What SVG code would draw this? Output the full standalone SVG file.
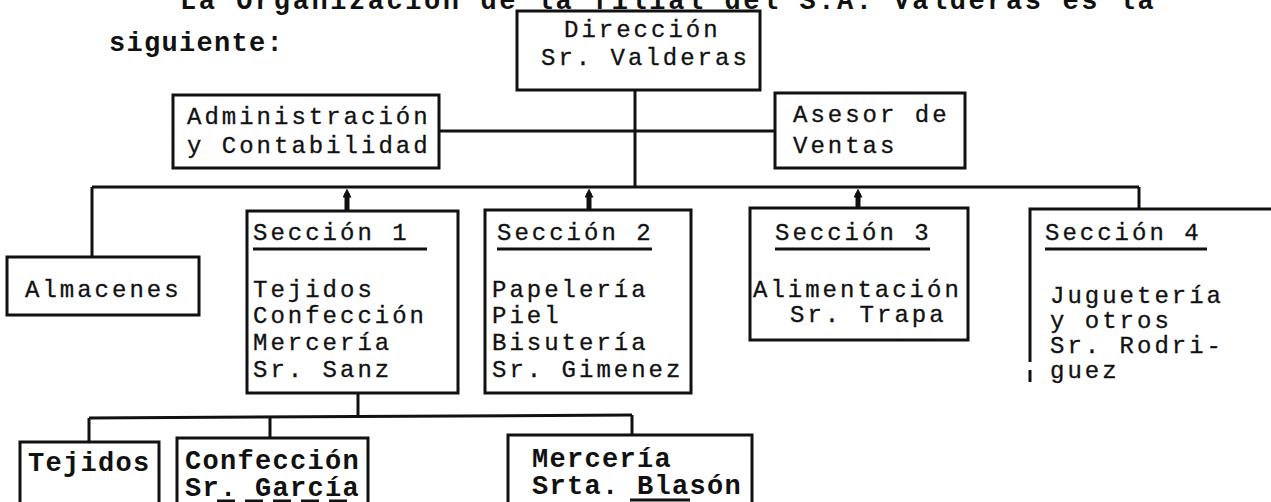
<svg xmlns="http://www.w3.org/2000/svg" width="1271" height="502" viewBox="0 0 1271 502">
  <style>
    .box { fill: none; stroke: #111; stroke-width: 3; }
    .ln { fill: none; stroke: #111; stroke-width: 3; }
    .tk { fill: none; stroke: #111; stroke-width: 5; }
    .t { font-family: "Liberation Mono", "DejaVu Sans Mono", monospace; font-size: 24px; letter-spacing: 3.0px; fill: #111; stroke: #111; stroke-width: 0.3; }
    .b { font-family: "Liberation Mono", "DejaVu Sans Mono", monospace; font-weight: bold; font-size: 27px; letter-spacing: 1.3px; fill: #111; }
  </style>
  <defs>
    <marker id="tip" viewBox="0 0 10 10" refX="5" refY="5" markerWidth="9" markerHeight="9" markerUnits="userSpaceOnUse" orient="auto">
      <path d="M0,0 L10,5 L0,10 z" fill="#111"/>
    </marker>
  </defs>
  <rect width="1271" height="502" fill="#fff"/>

  <!-- running text of the page -->
  <text class="b" x="180" y="9" textLength="975" lengthAdjust="spacing">La Organización de la filial del S.A. Valderas es la</text>
  <text class="b" x="109" y="51">siguiente:</text>

  <!-- connectors -->
  <g id="connectors">
    <line class="ln" x1="635" y1="90" x2="635" y2="187"/>
    <line class="ln" x1="439" y1="131" x2="775" y2="131"/>
    <line class="ln" x1="92" y1="187" x2="1139" y2="187"/>
    <line class="ln" x1="92" y1="187" x2="92" y2="257"/>
    <line class="tk" x1="347" y1="211" x2="347" y2="193" marker-end="url(#tip)"/>
    <line class="tk" x1="589" y1="210" x2="589" y2="193" marker-end="url(#tip)"/>
    <line class="tk" x1="858" y1="208" x2="858" y2="193" marker-end="url(#tip)"/>
    <line class="ln" x1="1139" y1="187" x2="1139" y2="209"/>
    <line class="ln" x1="358" y1="393" x2="358" y2="416"/>
    <line class="ln" x1="89" y1="418" x2="632" y2="415"/>
    <line class="ln" x1="89" y1="418" x2="89" y2="442"/>
    <line class="ln" x1="270" y1="417" x2="270" y2="438"/>
    <line class="ln" x1="632" y1="415" x2="632" y2="435"/>
  </g>

  <g id="direccion">
    <rect class="box" x="517" y="11" width="243" height="79"/>
    <text class="t" x="564" y="37">Dirección</text>
    <text class="t" x="541" y="65">Sr. Valderas</text>
  </g>

  <g id="administracion">
    <rect class="box" x="173" y="95" width="266" height="73"/>
    <text class="t" x="187" y="124">Administración</text>
    <text class="t" x="187" y="153">y Contabilidad</text>
  </g>

  <g id="asesor">
    <rect class="box" x="775" y="93" width="190" height="75"/>
    <text class="t" x="793" y="122">Asesor de</text>
    <text class="t" x="793" y="153">Ventas</text>
  </g>

  <g id="almacenes">
    <rect class="box" x="7" y="257" width="192" height="58"/>
    <text class="t" x="25" y="297">Almacenes</text>
  </g>

  <g id="seccion1">
    <rect class="box" x="247" y="211" width="211" height="182"/>
    <text class="t" x="253" y="240">Sección 1</text>
    <line class="ln" x1="253" y1="249" x2="427" y2="249" stroke-width="2"/>
    <text class="t" x="253" y="297">Tejidos</text>
    <text class="t" x="253" y="323">Confección</text>
    <text class="t" x="253" y="350">Mercería</text>
    <text class="t" x="253" y="377">Sr. Sanz</text>
  </g>

  <g id="seccion2">
    <rect class="box" x="485" y="210" width="206" height="183"/>
    <text class="t" x="497" y="240">Sección 2</text>
    <line class="ln" x1="497" y1="249" x2="652" y2="249" stroke-width="2"/>
    <text class="t" x="492" y="297">Papelería</text>
    <text class="t" x="492" y="323">Piel</text>
    <text class="t" x="492" y="350">Bisutería</text>
    <text class="t" x="492" y="377">Sr. Gimenez</text>
  </g>

  <g id="seccion3">
    <rect class="box" x="750" y="208" width="218" height="132"/>
    <text class="t" x="775" y="240">Sección 3</text>
    <line class="ln" x1="775" y1="249" x2="930" y2="249" stroke-width="2"/>
    <text class="t" x="753" y="297">Alimentación</text>
    <text class="t" x="790" y="322">Sr. Trapa</text>
  </g>

  <g id="seccion4">
    <path class="ln" d="M1030,362 L1030,209 L1271,209"/>
    <line class="ln" x1="1030" y1="370" x2="1030" y2="382"/>
    <text class="t" x="1045" y="240">Sección 4</text>
    <line class="ln" x1="1045" y1="249" x2="1207" y2="249" stroke-width="2"/>
    <text class="t" x="1050" y="303">Juguetería</text>
    <text class="t" x="1050" y="328">y otros</text>
    <text class="t" x="1050" y="353">Sr. Rodri-</text>
    <text class="t" x="1050" y="378">guez</text>
  </g>

  <g id="tejidos">
    <path class="ln" d="M20,504 L20,442 L159,442 L159,504"/>
    <text class="b" x="28" y="471">Tejidos</text>
  </g>

  <g id="confeccion">
    <path class="ln" d="M177,504 L177,438 L368,438 L368,504"/>
    <text class="b" x="185" y="469">Confección</text>
    <text class="b" x="185" y="496">Sr. García</text>
    <line class="ln" x1="217" y1="501" x2="357" y2="501" stroke-dasharray="18 10"/>
  </g>

  <g id="merceria">
    <path class="ln" d="M508,504 L508,435 L752,435 L752,504"/>
    <text class="b" x="532" y="467">Mercería</text>
    <text class="b" x="532" y="494">Srta. Blasón</text>
    <line class="ln" x1="630" y1="500" x2="690" y2="500"/>
  </g>
</svg>
